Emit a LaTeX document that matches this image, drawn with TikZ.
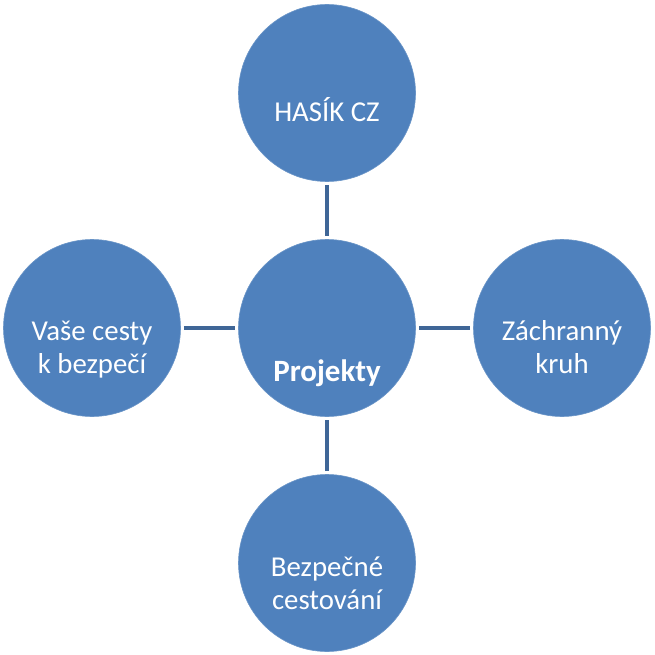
\documentclass[tikz,border=0pt]{standalone}
\usepackage{fontspec}
\setmainfont{Carlito}
\definecolor{bubble}{HTML}{4F81BD}
\definecolor{linkc}{HTML}{3F6697}
\begin{document}
\begin{tikzpicture}[x=1pt,y=-1pt,
  bubble/.style={circle,fill=bubble,draw=bubble!85!white,line width=0.6pt,minimum size=177pt,inner sep=0pt},
  lbl/.style={text=white,font=\fontsize{28.8}{32}\selectfont,align=center,anchor=base},
  link/.style={draw=linkc,line width=4.3pt}]
\useasboundingbox (0,0) rectangle (655,655);
\node[bubble] (c) at (327,328) {};
\node[bubble] (t) at (327,93) {};
\node[bubble] (b) at (327,563) {};
\node[bubble] (l) at (92,328) {};
\node[bubble] (r) at (562,328) {};
\draw[link] ([yshift=-3pt]t.south) -- ([yshift=3pt]c.north);
\draw[link] ([yshift=3pt]b.north) -- ([yshift=-3pt]c.south);
\draw[link] ([xshift=3pt]l.east) -- ([xshift=-3pt]c.west);
\draw[link] ([xshift=-3pt]r.west) -- ([xshift=3pt]c.east);
\node[lbl,font=\fontsize{31}{32}\selectfont\bfseries] (tc) at (327,381.7) {Projekty};
\node[lbl] (tt) at (327,122) {HASÍK CZ};
\node[lbl] (tl1) at (92,340.7) {Vaše cesty};
\node[lbl] (tl2) at (92,373) {k bezpečí};
\node[lbl] (tr1) at (562,340.7) {Záchranný};
\node[lbl] (tr2) at (562,373) {kruh};
\node[lbl] (tb1) at (327,576.7) {Bezpečné};
\node[lbl] (tb2) at (327,609) {cestování};
\end{tikzpicture}
\end{document}
